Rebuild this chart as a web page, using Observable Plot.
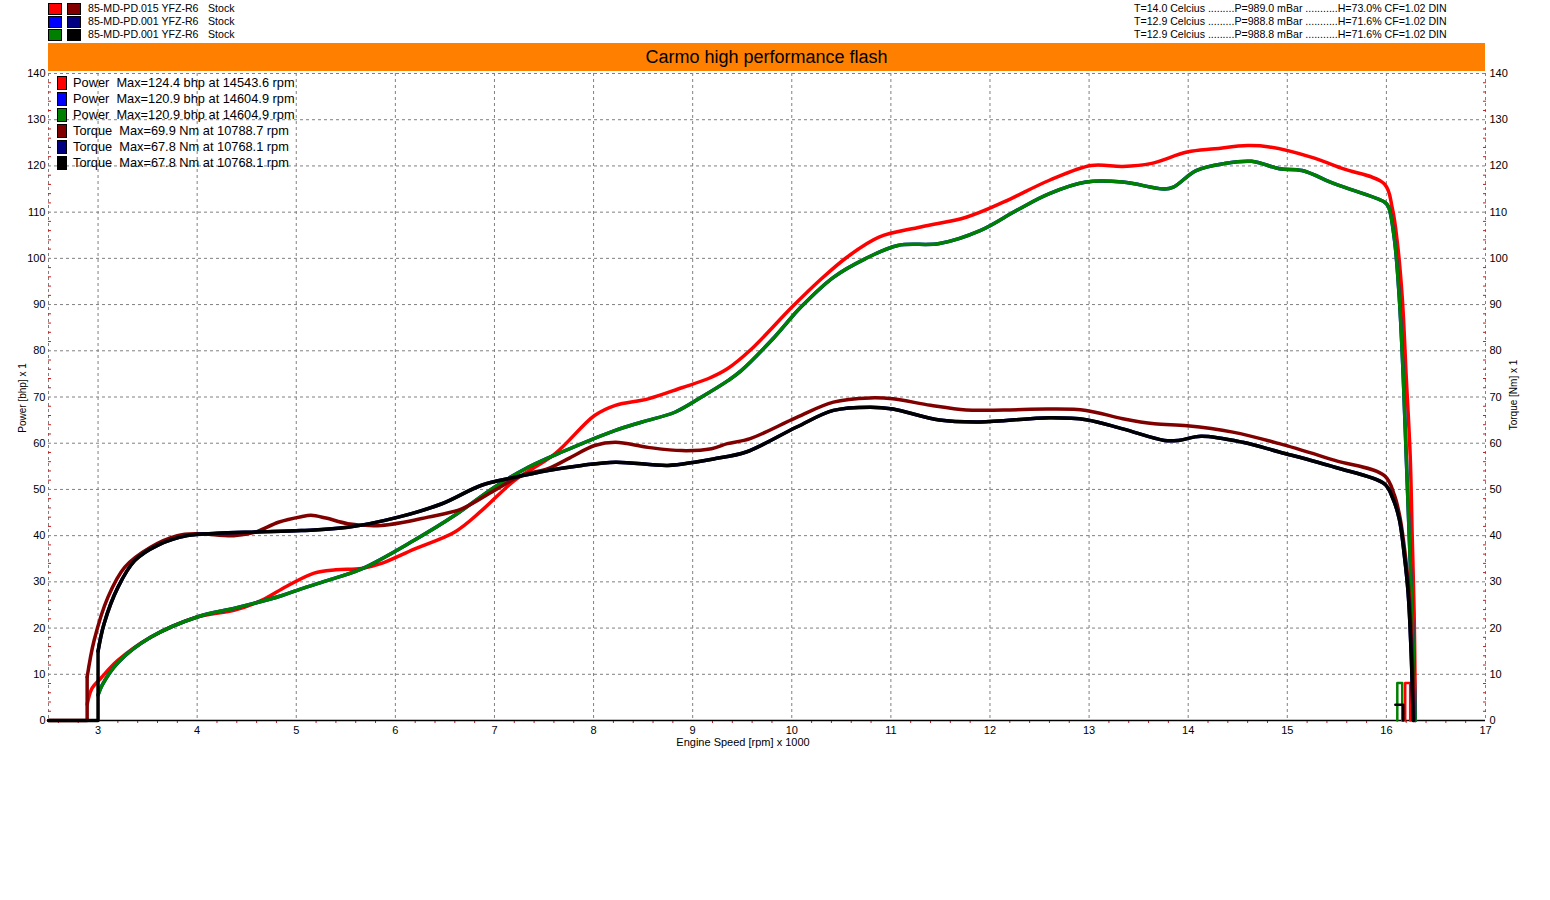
<!DOCTYPE html>
<html>
<head>
<meta charset="utf-8">
<script src="https://cdn.jsdelivr.net/npm/d3@7"></script>
<script src="https://cdn.jsdelivr.net/npm/@observablehq/plot@0.6"></script>
<style>
  html, body { margin: 0; padding: 0; background: #fff; }
  #wrap { position: relative; width: 1550px; height: 900px; font-family: "Liberation Sans", Arial, sans-serif; }
  #chart { position: absolute; left: 0; top: 0; }
  .ov { position: absolute; white-space: pre; color: #000; }
  .box { position: absolute; border: 1px solid #000; box-sizing: border-box; }
  .runrow { font-size: 10.6px; line-height: 13px; }
  .legrow { font-size: 12.8px; line-height: 16px; }
  #titlebar { position: absolute; left: 48px; top: 43px; width: 1437px; height: 28px; background: #ff8000;
              font-size: 18px; text-align: center; line-height: 28px; color: #000; }
</style>
</head>
<body>
<div id="wrap">
  <div id="chart"></div>
  <div id="titlebar">Carmo high performance flash</div>
  <div id="overlays"></div>
</div>
<script>
// ---------- data ----------
// Run 1 (85-MD-PD.015) power, bhp
const power1Rpm = [2.89, 2.94, 3.03, 3.2, 3.53, 4.0, 4.38, 4.65, 4.9, 5.18, 5.4, 5.66, 5.86, 6.19, 6.6, 6.87, 7.2, 7.61, 8.01, 8.22, 8.55, 8.89, 9.16, 9.35, 9.58, 10.0, 10.28, 10.56, 10.88, 11.3, 11.76, 12.14, 12.6, 13.02, 13.34, 13.62, 13.99, 14.27, 14.6, 14.82, 15.24, 15.56, 15.98, 16.06, 16.11, 16.16, 16.2, 16.24, 16.26, 16.28, 16.29, 16.29];
const power1Bhp = [3.5, 7.0, 9.2, 13.0, 18.0, 22.4, 23.9, 26.0, 29.0, 31.9, 32.6, 32.9, 34.0, 37.1, 40.8, 45.4, 51.9, 57.7, 66.0, 68.2, 69.6, 72.0, 74.0, 76.1, 80.1, 89.4, 95.2, 100.3, 104.6, 106.8, 108.9, 112.2, 116.9, 120.1, 119.9, 120.5, 123.0, 123.7, 124.4, 124.1, 121.9, 119.4, 116.1, 110.8, 103.5, 91.5, 74.4, 57.3, 40.2, 23.1, 6.0, 0];
const power1TailRpm = [16.24, 16.24, 16.19, 16.19];
const power1TailBhp = [0, 8.1, 8.1, 0];

// Run 3 (85-MD-PD.001) power, bhp  (run 2 is the same file)
const power3Rpm = [3.0, 3.04, 3.2, 3.53, 4.0, 4.4, 4.85, 5.05, 5.3, 5.66, 6.19, 6.6, 7.0, 7.34, 7.68, 8.22, 8.49, 8.82, 9.09, 9.36, 9.49, 9.81, 10.09, 10.42, 10.74, 11.07, 11.49, 11.9, 12.27, 12.6, 12.97, 13.34, 13.76, 13.85, 14.08, 14.36, 14.64, 14.92, 15.15, 15.48, 15.98, 16.02, 16.08, 16.13, 16.17, 16.2, 16.23, 16.26, 16.28, 16.29];
const power3Bhp = [5.5, 7.6, 12.5, 18.0, 22.4, 24.4, 27.0, 28.5, 30.2, 32.8, 39.0, 44.4, 50.5, 54.8, 58.1, 62.8, 64.6, 66.7, 70.0, 73.6, 75.7, 82.6, 89.4, 95.9, 99.9, 102.8, 103.2, 106.0, 110.4, 114.0, 116.5, 116.5, 115.0, 115.4, 119.0, 120.5, 121.0, 119.4, 119.0, 116.1, 112.2, 111.2, 104.3, 91.5, 74.4, 57.3, 40.2, 23.1, 10.3, 0];
const power3TailRpm = [16.16, 16.16, 16.11, 16.11];
const power3TailBhp = [0, 8.1, 8.1, 0];

// Run 1 torque, Nm (zero baseline, vertical rise, then the curve)
const torque1BaseRpm = [2.5, 2.89, 2.89];
const torque1BaseNm = [0, 0, 9.4];
const torque1Rpm = [2.89, 2.96, 3.1, 3.27, 3.53, 3.8, 4.0, 4.37, 4.58, 4.82, 5.05, 5.15, 5.3, 5.52, 5.86, 6.33, 6.67, 7.0, 7.27, 7.54, 7.74, 8.01, 8.22, 8.55, 8.89, 9.19, 9.35, 9.58, 10.05, 10.42, 10.79, 11.02, 11.4, 11.76, 12.14, 12.6, 12.97, 13.34, 13.66, 13.99, 14.45, 14.92, 15.48, 15.98, 16.08, 16.14, 16.19, 16.23, 16.26, 16.28];
const torque1Nm = [9.4, 17.3, 26.7, 33.2, 37.5, 40.0, 40.4, 40.0, 40.7, 42.9, 44.1, 44.4, 43.8, 42.6, 42.2, 44.0, 45.8, 49.8, 53.0, 54.5, 56.6, 59.5, 60.2, 59.1, 58.4, 58.8, 59.9, 61.0, 65.6, 68.9, 69.8, 69.6, 68.2, 67.2, 67.2, 67.4, 67.1, 65.3, 64.2, 63.8, 62.4, 59.9, 56.3, 53.0, 48.8, 43.6, 35.9, 27.4, 14.5, 0];

// Run 3 torque, Nm  (run 2 is the same file)
const torque3BaseRpm = [2.5, 3.0, 3.0];
const torque3BaseNm = [0, 0, 15.0];
const torque3Rpm = [3.0, 3.06, 3.2, 3.37, 3.6, 3.9, 4.2, 4.6, 5.05, 5.52, 6.03, 6.47, 6.87, 7.2, 7.54, 7.88, 8.22, 8.75, 9.02, 9.21, 9.54, 10.05, 10.42, 10.79, 11.02, 11.49, 11.9, 12.6, 12.97, 13.34, 13.76, 13.9, 14.13, 14.55, 14.92, 15.48, 15.98, 16.06, 16.13, 16.18, 16.22, 16.25, 16.27];
const torque3Nm = [15.0, 20.9, 28.8, 34.6, 37.9, 40.0, 40.5, 40.8, 41.1, 41.8, 44.0, 46.9, 50.9, 52.6, 54.1, 55.2, 55.9, 55.2, 55.9, 56.6, 58.1, 63.5, 67.1, 67.8, 67.4, 65.0, 64.6, 65.5, 65.1, 63.1, 60.6, 60.6, 61.5, 60.2, 58.1, 54.8, 51.2, 48.3, 43.6, 35.9, 27.4, 14.5, 0];
const torque3TailRpm = [16.09, 16.17, 16.17];
const torque3TailNm = [3.4, 3.4, 0];

// Axis ticks
const xTicks = [3, 4, 5, 6, 7, 8, 9, 10, 11, 12, 13, 14, 15, 16, 17];
const yTicks = [0, 10, 20, 30, 40, 50, 60, 70, 80, 90, 100, 110, 120, 130, 140];
const xMinor = d3.range(2.6, 17, 0.2).filter(v => Math.abs(v - Math.round(v)) > 0.01);
const yMinor = d3.range(2, 140, 2).filter(v => v % 10 !== 0);

// Legends
const runNames = ["85-MD-PD.015 YFZ-R6", "85-MD-PD.001 YFZ-R6", "85-MD-PD.001 YFZ-R6"];
const runTags = ["Stock", "Stock", "Stock"];
const powerColors = ["#ff0000", "#0000ff", "#008000"];
const torqueColors = ["#800000", "#000080", "#000000"];
const conditions = [
  "T=14.0 Celcius .........P=989.0 mBar ...........H=73.0% CF=1.02 DIN",
  "T=12.9 Celcius .........P=988.8 mBar ...........H=71.6% CF=1.02 DIN",
  "T=12.9 Celcius .........P=988.8 mBar ...........H=71.6% CF=1.02 DIN"
];
const legendLabels = [
  "Power  Max=124.4 bhp at 14543.6 rpm",
  "Power  Max=120.9 bhp at 14604.9 rpm",
  "Power  Max=120.9 bhp at 14604.9 rpm",
  "Torque  Max=69.9 Nm at 10788.7 rpm",
  "Torque  Max=67.8 Nm at 10768.1 rpm",
  "Torque  Max=67.8 Nm at 10768.1 rpm"
];
const legendColors = [...powerColors, ...torqueColors];

// ---------- build ----------
const zip = (xs, ys) => xs.map((x, i) => ({x, y: ys[i]}));
const p1 = zip(power1Rpm, power1Bhp), p1t = zip(power1TailRpm, power1TailBhp);
const p3 = zip(power3Rpm, power3Bhp), p3t = zip(power3TailRpm, power3TailBhp);
const t1 = zip(torque1Rpm, torque1Nm), t1b = zip(torque1BaseRpm, torque1BaseNm);
const t3 = zip(torque3Rpm, torque3Nm), t3b = zip(torque3BaseRpm, torque3BaseNm), t3t = zip(torque3TailRpm, torque3TailNm);

const gridStyle = {stroke: "#808080", strokeOpacity: 1, strokeDasharray: "3,3", strokeWidth: 1};
const lw = 3.5;
const curve = "catmull-rom";
const minorStyle = {text: null, label: null, stroke: "#c02020"};

const chart = Plot.plot({
  width: 1550,
  height: 900,
  marginLeft: 48,
  marginRight: 65,
  marginTop: 73,
  marginBottom: 180,
  style: {fontFamily: "'Liberation Sans', Arial, sans-serif", fontSize: "11px", background: "white", color: "black"},
  x: {domain: [2.5, 17]},
  y: {domain: [0, 140]},
  marks: [
    Plot.gridX([2.5, ...xTicks], gridStyle),
    Plot.gridY(yTicks.filter(v => v > 0), gridStyle),
    Plot.axisX(xMinor, {tickSize: 3, ...minorStyle}),
    Plot.axisY(yMinor, {anchor: "left", tickSize: -3, ...minorStyle}),
    Plot.axisY(yMinor, {anchor: "right", tickSize: -3, ...minorStyle}),
    Plot.ruleY([0], {stroke: "#000", strokeWidth: 1.5}),
    // power lines
    Plot.line(p1, {x: "x", y: "y", stroke: powerColors[0], strokeWidth: lw, curve}),
    Plot.line(p1t, {x: "x", y: "y", stroke: powerColors[0], strokeWidth: lw - 1}),
    Plot.line(p3, {x: "x", y: "y", stroke: powerColors[1], strokeWidth: lw, curve}),
    Plot.line(p3, {x: "x", y: "y", stroke: powerColors[2], strokeWidth: lw, curve}),
    Plot.line(p3t, {x: "x", y: "y", stroke: powerColors[2], strokeWidth: lw - 1}),
    // torque lines
    Plot.line(t1b, {x: "x", y: "y", stroke: torqueColors[0], strokeWidth: lw}),
    Plot.line(t1, {x: "x", y: "y", stroke: torqueColors[0], strokeWidth: lw, curve}),
    Plot.line(t3, {x: "x", y: "y", stroke: torqueColors[1], strokeWidth: lw, curve}),
    Plot.line(t3b, {x: "x", y: "y", stroke: torqueColors[2], strokeWidth: lw}),
    Plot.line(t3, {x: "x", y: "y", stroke: torqueColors[2], strokeWidth: lw, curve}),
    Plot.line(t3t, {x: "x", y: "y", stroke: torqueColors[2], strokeWidth: lw - 1}),
    // axes
    Plot.axisX(xTicks, {tickSize: 0, tickPadding: 6, tickFormat: d => d, label: null, fontSize: 11}),
    Plot.axisY(yTicks, {anchor: "left", tickSize: 0, tickPadding: 3, tickFormat: d => d, label: null, fontSize: 11}),
    Plot.axisY(yTicks, {anchor: "right", tickSize: 0, tickPadding: 4, tickFormat: d => d, label: null, fontSize: 11}),
    Plot.text(["Engine Speed [rpm] x 1000"], {frameAnchor: "bottom", dy: 25, dx: -24, fontSize: 11}),
    Plot.text(["Power [bhp] x 1"], {frameAnchor: "left", textAnchor: "middle", dx: -26, dy: 1, rotate: -90, fontSize: 10}),
    Plot.text(["Torque [Nm] x 1"], {frameAnchor: "right", textAnchor: "middle", dx: 28, dy: -2, rotate: -90, fontSize: 10})
  ]
});
document.getElementById("chart").appendChild(chart);

// ---------- overlays (legends) ----------
const ov = document.getElementById("overlays");
function add(html) { ov.insertAdjacentHTML("beforeend", html); }
runNames.forEach((name, i) => {
  const top = 2 + i * 13;
  add(`<div class="box" style="left:48px;top:${top + 1}px;width:14px;height:12px;background:${powerColors[i]}"></div>`);
  add(`<div class="box" style="left:67px;top:${top + 1}px;width:14px;height:12px;background:${torqueColors[i]}"></div>`);
  add(`<div class="ov runrow" style="left:88px;top:${top}px">${name}</div>`);
  add(`<div class="ov runrow" style="left:208px;top:${top}px">${runTags[i]}</div>`);
  add(`<div class="ov runrow" style="left:1134px;top:${top}px">${conditions[i]}</div>`);
});
legendLabels.forEach((lab, i) => {
  const top = 75 + i * 16;
  add(`<div class="box" style="left:57px;top:${top + 1}px;width:10px;height:14px;background:${legendColors[i]}"></div>`);
  add(`<div class="ov legrow" style="left:73px;top:${top}px">${lab}</div>`);
});
</script>
</body>
</html>
